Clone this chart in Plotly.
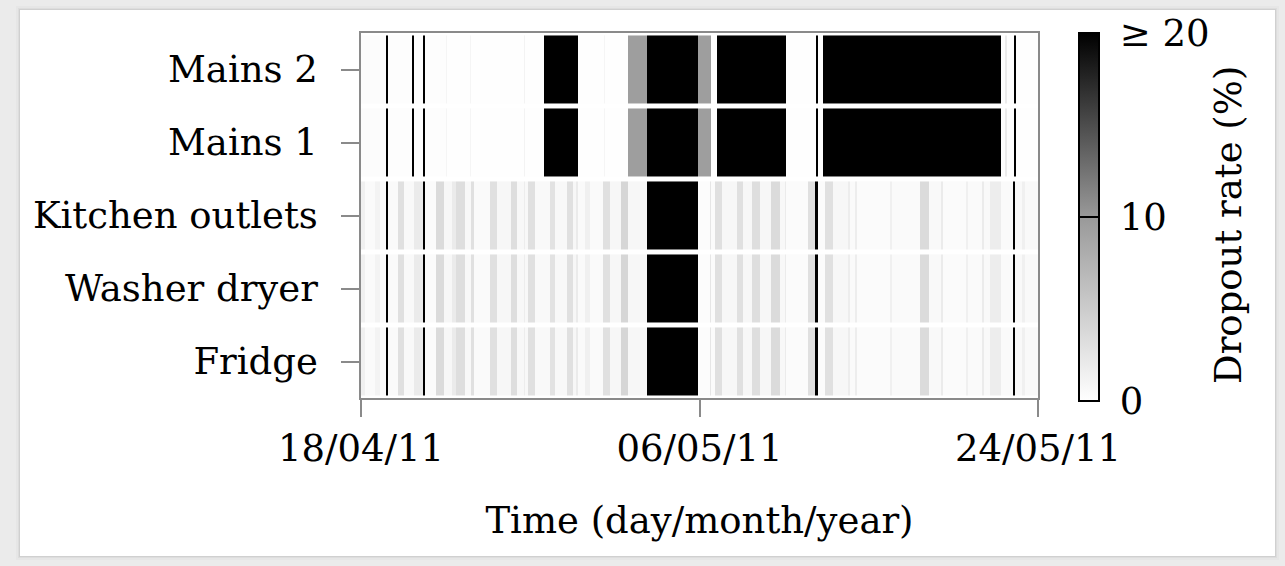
import pandas as pd
import plotly.graph_objects as go

# Recording period of the house (timestamps measured in hours from the start date)
start_date = "2011-04-18"
end_date = "2011-05-24"

channels = ["Fridge", "Washer dryer", "Kitchen outlets", "Mains 1", "Mains 2"]

# Segment boundaries (hours since start) and dropout rate (%) for the appliance channels
appliance_edges_h = [0, 5, 18, 24, 32, 34, 47, 55, 68, 79, 82, 96, 106, 116, 121, 133,
                     140, 144, 165, 174, 191, 199, 208, 209, 213, 222, 241, 248, 263,
                     271, 274, 277, 286, 292, 309, 318, 332, 341, 365, 430, 445, 447,
                     452, 461, 480, 488, 499, 509, 523, 535, 541, 543, 570, 579, 583,
                     592, 602, 622, 624, 630, 633, 675, 678, 713, 725, 740, 743, 772,
                     775, 792, 795, 803, 817, 832, 835, 844, 847, 864]
appliance_rates = [1.5, 0.5, 1.2, 0.4, 25, 0.5, 3.0, 0.6, 2.0, 25, 0.4, 3.5, 0.8, 2.0,
                   3.2, 0.7, 3.0, 0.5, 3.0, 0.8, 3.2, 0.7, 1.8, 0.7, 3.0, 0.6, 2.8,
                   0.7, 3.0, 0.8, 2.0, 0.5, 1.5, 0.5, 3.0, 0.8, 4.0, 0.8, 25, 0.3,
                   2.5, 0.4, 3.0, 0.8, 3.0, 0.8, 3.2, 0.8, 3.5, 0.7, 2.0, 0.4, 3.0,
                   25, 0.4, 3.0, 0.8, 1.8, 0.5, 1.8, 0.4, 1.5, 0.5, 3.5, 0.6, 2.0,
                   0.4, 1.5, 0.5, 2.0, 0.6, 1.8, 0.5, 25, 0.6, 1.5, 0.6]

# Segment boundaries (hours since start) and dropout rate (%) for the mains channels
mains_edges_h = [0, 32, 34, 65, 68, 79, 82, 108, 110, 139, 140, 208, 209, 234, 277,
                 310, 311, 341, 365, 430, 447, 454, 542, 581, 583, 590, 817, 822, 824,
                 833, 836, 864]
mains_rates = [0.3, 25, 0.2, 25, 0.2, 25, 0.2, 1.0, 0.1, 1.0, 0.1, 1.2, 0.1, 25, 0.1,
               1.0, 0.1, 9.5, 25, 9.5, 0.1, 25, 0.1, 25, 0.1, 25, 0.1, 2.0, 0.1, 25, 0.1]

channel_series = {
    "Fridge": (appliance_edges_h, appliance_rates),
    "Washer dryer": (appliance_edges_h, appliance_rates),
    "Kitchen outlets": (appliance_edges_h, appliance_rates),
    "Mains 1": (mains_edges_h, mains_rates),
    "Mains 2": (mains_edges_h, mains_rates),
}

date_ticks = ["2011-04-18", "2011-05-06", "2011-05-24"]
date_tick_labels = ["18/04/11", "06/05/11", "24/05/11"]

rate_ticks = [0, 10, 20]
rate_tick_labels = ["0", "10", "≥ 20"]
rate_min, rate_max = 0, 20

FONT = "DejaVu Serif"
FS = 37
AXIS_GREY = "#8a8a8a"

t0 = pd.Timestamp(start_date)
half_band = 0.466

fig = go.Figure()
for row, name in enumerate(channels):
    edges_h, rates = channel_series[name]
    x_edges = [t0 + pd.Timedelta(hours=h) for h in edges_h]
    fig.add_trace(go.Heatmap(
        x=x_edges,
        y=[row - half_band, row + half_band],
        z=[rates],
        coloraxis="coloraxis",
        name=name,
        hovertemplate=name + "<br>%{x}<br>%{z}%<extra></extra>",
    ))

# plot area in pixels; card background with a soft shadow
L, R, T, B = 361, 1038, 33, 398
W, H = 1285, 566
def px_x(p):
    return (p - L) / (R - L)
def px_y(p):
    return (B - p) / (B - T)

shapes = []
for grow, alpha in [(4, 0.02), (2, 0.04), (1, 0.06)]:
    shapes.append(dict(type="rect", xref="paper", yref="paper", layer="below",
                       x0=px_x(20 - grow), x1=px_x(1275 + grow),
                       y0=px_y(556 + grow), y1=px_y(10 - grow),
                       fillcolor=f"rgba(0,0,0,{alpha})", line_width=0))
shapes.append(dict(type="rect", xref="paper", yref="paper", layer="below",
                   x0=px_x(20), x1=px_x(1275), y0=px_y(556), y1=px_y(10),
                   fillcolor="white", line_width=0))

# colour bar geometry (pixels)
CB_LEFT, CB_THICK, CB_TOP, CB_LEN = 1079, 20, 33, 368
cb_mid = CB_TOP + CB_LEN / 2

fig.update_layout(
    width=W, height=H,
    margin=dict(l=L, r=W - R, t=T, b=H - B),
    paper_bgcolor="#ebebeb",
    plot_bgcolor="white",
    font=dict(family=FONT, size=FS, color="black"),
    shapes=shapes,
    showlegend=False,
    annotations=[dict(
        text="Dropout rate (%)", textangle=-90,
        xref="paper", yref="paper", x=px_x(1228), y=px_y(225),
        xanchor="center", yanchor="middle", showarrow=False,
        font=dict(family=FONT, size=FS),
    )],
    coloraxis=dict(
        cmin=rate_min, cmax=rate_max,
        colorscale=[[0, "#ffffff"], [0.5, "#999999"], [1, "#000000"]],
        colorbar=dict(
            x=px_x(CB_LEFT), xanchor="left", xpad=0,
            y=px_y(cb_mid), yanchor="middle", ypad=0,
            lenmode="pixels", len=CB_LEN,
            thicknessmode="pixels", thickness=CB_THICK,
            outlinewidth=2, outlinecolor="black",
            tickvals=rate_ticks,
            ticktext=["\u00a0" + t for t in rate_tick_labels],
            ticks="inside", ticklen=CB_THICK, tickwidth=2, tickcolor="black",
            tickfont=dict(family=FONT, size=FS),
        ),
    ),
    xaxis=dict(
        type="date",
        range=[start_date, end_date],
        tickvals=date_ticks, ticktext=date_tick_labels,
        ticks="outside", ticklen=17, tickwidth=1.5, tickcolor=AXIS_GREY,
        showline=True, linecolor=AXIS_GREY, linewidth=1.5, mirror=True,
        showgrid=False, zeroline=False,
        tickfont=dict(family=FONT, size=FS),
        title=dict(text="Time (day/month/year)", font=dict(family=FONT, size=FS),
                   standoff=38),
    ),
    yaxis=dict(
        range=[-0.5, 4.5],
        tickvals=list(range(len(channels))), ticktext=channels,
        ticks="outside", ticklen=18, tickwidth=1.5, tickcolor=AXIS_GREY,
        showline=True, linecolor=AXIS_GREY, linewidth=1.5, mirror=True,
        showgrid=False, zeroline=False,
        tickfont=dict(family=FONT, size=FS),
        ticklabelstandoff=16,
    ),
)

fig.write_html("out.html")
